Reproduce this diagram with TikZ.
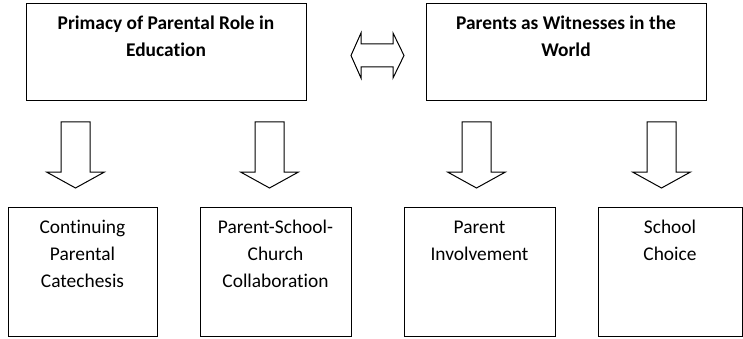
\documentclass[tikz,border=0pt]{standalone}
\usepackage{fontspec}
\setmainfont{Carlito}[Ligatures=NoCommon]
\begin{document}
\begin{tikzpicture}[x=1pt,y=-1pt,
  box/.style={draw=black,line width=1pt,inner sep=0pt},
  lbl/.style={align=center,font=\fontsize{19.4}{27}\selectfont,inner sep=0pt,anchor=base},
  blbl/.style={lbl,font=\fontsize{19.4}{27}\selectfont\bfseries},
  shapeline/.style={draw=black,line width=1pt,line join=miter},
  downarr/.pic={\draw[shapeline] (-14.5,0) -- (14.5,0) -- (14.5,50) -- (29,50) -- (0,66) -- (-29,50) -- (-14.5,50) -- cycle;}
]
\useasboundingbox (0,0) rectangle (743,339);
% top boxes (label anchored at the baseline of its last line)
\node[box,minimum width=280pt,minimum height=97pt] (A) at (166,52.5) {};
\node[blbl] (At) at (166,57) {Primacy of Parental Role in\\Education};
\node[box,minimum width=280pt,minimum height=97pt] (B) at (566,52.5) {};
\node[blbl] (Bt) at (566,57) {Parents as Witnesses in the\\World};
% double arrow
\coordinate (D) at (377.5,55.5);
\draw[shapeline] (351,55.5) -- (361,33) -- (361,44) -- (393,44) -- (393,33) -- (404,55.5) -- (393,78) -- (393,67) -- (361,67) -- (361,78) -- cycle;
% down arrows
\pic at (75.5,122) {downarr};
\pic at (269.5,122) {downarr};
\pic at (476.5,122) {downarr};
\pic at (661.5,122) {downarr};
% bottom boxes
\node[box,minimum width=149pt,minimum height=129pt] (C1) at (82.5,271.5) {};
\node[lbl] (C1t) at (82.5,287) {Continuing\\Parental\\Catechesis};
\node[box,minimum width=151pt,minimum height=129pt] (C2) at (275.5,271.5) {};
\node[lbl] (C2t) at (275.5,287) {Parent-School-\\Church\\Collaboration};
\node[box,minimum width=151pt,minimum height=129pt] (C3) at (479.5,271.5) {};
\node[lbl] (C3t) at (479.5,260) {Parent\\Involvement};
\node[box,minimum width=144pt,minimum height=129pt] (C4) at (670,271.5) {};
\node[lbl] (C4t) at (670,260) {School\\Choice};
\end{tikzpicture}
\end{document}
